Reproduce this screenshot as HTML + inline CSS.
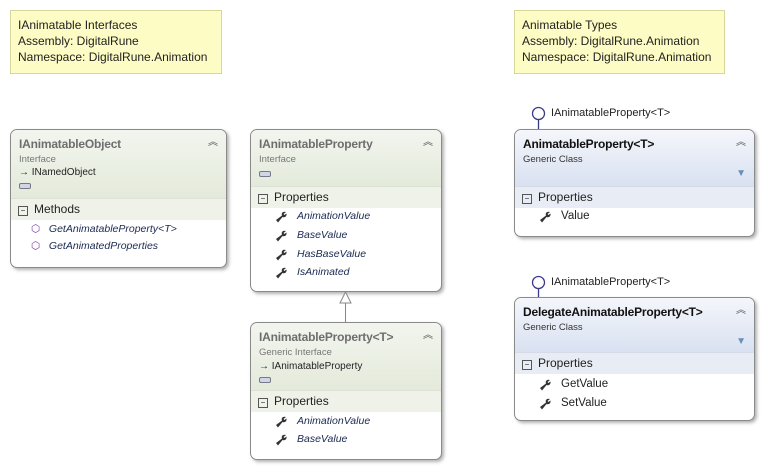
<!DOCTYPE html>
<html><head><meta charset="utf-8"><style>
body{margin:0;width:763px;height:468px;background:#fff;position:relative;overflow:hidden;font-family:"Liberation Sans",sans-serif;}
.a{position:absolute;white-space:nowrap}
.note{position:absolute;background:#fdfcc4;border:1px solid #d8d79a;font-size:12px;line-height:16px;color:#222;padding:6px 7px;box-sizing:border-box}
.box{position:absolute;border:1px solid #8a8a8a;border-radius:7px;background:#fff;box-shadow:2px 2px 3px rgba(0,0,0,0.3);overflow:hidden;box-sizing:border-box}
.hi{background:linear-gradient(to bottom,#f2f5ee,#e4eadb)}
.hc{background:linear-gradient(to bottom,#f4f6fb,#d9e1f1)}
.t{font-size:12px;font-weight:bold;letter-spacing:-0.2px}
.s{font-size:9.5px;color:#555}
.sec{position:absolute;left:0;right:0;height:21px;font-size:12px;line-height:21px;color:#222}
.si{background:#eef2e8;border-top:1px solid #dde3d4}
.sc{background:#e8ecf4;border-top:1px solid #d6dbe7}
.mn{display:inline-block;width:8px;height:8px;border:1px solid #555;margin:0 6px 0 7px;position:relative;top:0px;font-size:8px;line-height:7px;text-align:center}
.m{font-size:10.5px;font-style:italic;color:#1b2a52}
.p{font-size:11.5px;color:#222}
.chev{position:absolute;font-size:10px;color:#555;right:8px;top:3px}
.wr{position:absolute;width:12px;height:12px}
</style></head><body>
<svg width="0" height="0" style="position:absolute"><defs><g id="w"><path d="M11,1 C8,0 6,2 7,4.5 L1,9 L3,11.5 L7.5,6 C10,7 12,5 11.5,2.5 L9.5,4 L8.5,3 Z" fill="#333"/></g></defs></svg>
<div class="note" style="left:10px;top:10px;width:212px;height:64px">IAnimatable Interfaces<br>Assembly: DigitalRune<br>Namespace: DigitalRune.Animation</div>
<div class="note" style="left:514px;top:10px;width:211px;height:64px">Animatable Types<br>Assembly: DigitalRune.Animation<br>Namespace: DigitalRune.Animation</div>

<!-- Box1 -->
<div class="box" style="left:10px;top:129px;width:217px;height:139px">
 <div class="hi" style="position:absolute;left:0;right:0;top:0;height:68px"></div>
 <div class="a t" style="left:8px;top:7px;color:#6e6e6e">IAnimatableObject</div>
 <div class="chev">︽</div>
 <div class="a s" style="left:8px;top:24px;color:#777">Interface</div>
 <div class="a" style="left:8px;top:37px;font-size:10px;color:#222">→ INamedObject</div>
 <div class="a" style="left:8px;top:53px;width:10px;height:4px;border:1px solid #778;border-radius:2px;background:#cfd6e6"></div>
 <div class="sec si" style="top:68px"><span class="mn">−</span>Methods</div>
 <div class="a m" style="left:20px;top:93px"><span style="color:#7a3fa8;font-style:normal">⬡</span>&nbsp;&nbsp;&nbsp;GetAnimatableProperty&lt;T&gt;</div>
 <div class="a m" style="left:20px;top:110px"><span style="color:#7a3fa8;font-style:normal">⬡</span>&nbsp;&nbsp;&nbsp;GetAnimatedProperties</div>
</div>

<!-- Box2 -->
<div class="box" style="left:250px;top:129px;width:192px;height:163px">
 <div class="hi" style="position:absolute;left:0;right:0;top:0;height:56px"></div>
 <div class="a t" style="left:8px;top:7px;color:#6e6e6e">IAnimatableProperty</div>
 <div class="chev">︽</div>
 <div class="a s" style="left:8px;top:24px;color:#777">Interface</div>
 <div class="a" style="left:8px;top:41px;width:10px;height:4px;border:1px solid #778;border-radius:2px;background:#cfd6e6"></div>
 <div class="sec si" style="top:56px"><span class="mn">−</span>Properties</div>
 <svg class="wr" style="left:24px;top:81px"><use href="#w"/></svg>
 <div class="a m" style="left:46px;top:80px">AnimationValue</div>
 <svg class="wr" style="left:24px;top:100px"><use href="#w"/></svg>
 <div class="a m" style="left:46px;top:99px">BaseValue</div>
 <svg class="wr" style="left:24px;top:119px"><use href="#w"/></svg>
 <div class="a m" style="left:46px;top:118px">HasBaseValue</div>
 <svg class="wr" style="left:24px;top:137px"><use href="#w"/></svg>
 <div class="a m" style="left:46px;top:136px">IsAnimated</div>
</div>

<svg class="a" style="left:0;top:0" width="763" height="468">
 <line x1="345.5" y1="303" x2="345.5" y2="322" stroke="#888" stroke-width="1"/>
 <polygon points="345.5,292 340,303 351,303" fill="#fff" stroke="#888"/>
 <circle cx="538.5" cy="113.5" r="6" fill="#fff" stroke="#3a3a8a" stroke-width="1.3"/>
 <line x1="538.5" y1="119.5" x2="538.5" y2="129" stroke="#3a3a8a" stroke-width="1.3"/>
 <circle cx="538.5" cy="282.5" r="6" fill="#fff" stroke="#3a3a8a" stroke-width="1.3"/>
 <line x1="538.5" y1="288.5" x2="538.5" y2="297" stroke="#3a3a8a" stroke-width="1.3"/>
</svg>
<div class="a" style="left:551px;top:107px;font-size:11px;color:#222">IAnimatableProperty&lt;T&gt;</div>
<div class="a" style="left:551px;top:276px;font-size:11px;color:#222">IAnimatableProperty&lt;T&gt;</div>

<!-- Box3 -->
<div class="box" style="left:250px;top:322px;width:192px;height:138px">
 <div class="hi" style="position:absolute;left:0;right:0;top:0;height:67px"></div>
 <div class="a t" style="left:8px;top:7px;color:#6e6e6e">IAnimatableProperty&lt;T&gt;</div>
 <div class="chev">︽</div>
 <div class="a s" style="left:8px;top:24px;color:#777">Generic Interface</div>
 <div class="a" style="left:8px;top:38px;font-size:10px;color:#222">→ IAnimatableProperty</div>
 <div class="a" style="left:8px;top:54px;width:10px;height:4px;border:1px solid #778;border-radius:2px;background:#cfd6e6"></div>
 <div class="sec si" style="top:67px"><span class="mn">−</span>Properties</div>
 <svg class="wr" style="left:24px;top:93px"><use href="#w"/></svg>
 <div class="a m" style="left:46px;top:92px">AnimationValue</div>
 <svg class="wr" style="left:24px;top:111px"><use href="#w"/></svg>
 <div class="a m" style="left:46px;top:110px">BaseValue</div>
</div>

<!-- Box4 -->
<div class="box" style="left:514px;top:129px;width:241px;height:108px">
 <div class="hc" style="position:absolute;left:0;right:0;top:0;height:56px"></div>
 <div class="a t" style="left:8px;top:7px;color:#111">AnimatableProperty&lt;T&gt;</div>
 <div class="chev">︽</div>
 <div class="a s" style="left:8px;top:24px;color:#333">Generic Class</div>
 <div class="a" style="right:8px;top:38px;font-size:10px;color:#6a8fb8">▼</div>
 <div class="sec sc" style="top:56px"><span class="mn">−</span>Properties</div>
 <svg class="wr" style="left:24px;top:81px"><use href="#w"/></svg>
 <div class="a p" style="left:46px;top:80px">Value</div>
</div>

<!-- Box5 -->
<div class="box" style="left:514px;top:297px;width:241px;height:124px">
 <div class="hc" style="position:absolute;left:0;right:0;top:0;height:54px"></div>
 <div class="a t" style="left:8px;top:7px;color:#111">DelegateAnimatableProperty&lt;T&gt;</div>
 <div class="chev">︽</div>
 <div class="a s" style="left:8px;top:24px;color:#333">Generic Class</div>
 <div class="a" style="right:8px;top:38px;font-size:10px;color:#6a8fb8">▼</div>
 <div class="sec sc" style="top:54px"><span class="mn">−</span>Properties</div>
 <svg class="wr" style="left:24px;top:81px"><use href="#w"/></svg>
 <div class="a p" style="left:46px;top:80px">GetValue</div>
 <svg class="wr" style="left:24px;top:100px"><use href="#w"/></svg>
 <div class="a p" style="left:46px;top:99px">SetValue</div>
</div>
</body></html>
